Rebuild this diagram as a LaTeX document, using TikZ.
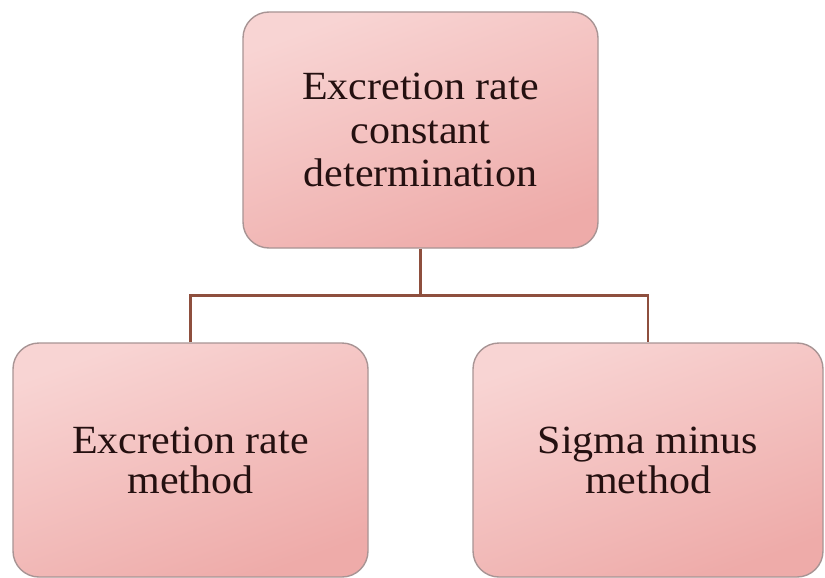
\documentclass[tikz,border=0pt]{standalone}
\usepackage{fontspec}
\setmainfont{Liberation Serif}[FakeStretch=1.05]
\definecolor{boxedge}{HTML}{A89494}
\definecolor{pinklight}{HTML}{F8D4D3}
\definecolor{pinkdark}{HTML}{EEABA9}
\definecolor{connbrown}{HTML}{8E4F3E}
\definecolor{txt}{HTML}{241010}
\tikzset{
  pinkbox/.style={rectangle, rounded corners=26pt, draw=boxedge, line width=1.4pt,
    top color=pinklight, bottom color=pinkdark, shading angle=20,
    minimum width=355pt, align=center, text=txt, inner sep=0pt},
  conn/.style={draw=connbrown, line width=2.8pt}
}
\begin{document}
\begin{tikzpicture}[x=1pt,y=-1pt]
\useasboundingbox (0,0) rectangle (825,578);
\node[pinkbox, minimum height=236pt, font=\fontsize{40}{43.5}\selectfont] (top) at (420.5,130) {Excretion rate\\constant\\determination};
\node[pinkbox, minimum height=234pt, font=\fontsize{40}{40}\selectfont] (left) at (190.5,460) {Excretion rate\\method};
\node[pinkbox, minimum width=350pt, minimum height=234pt, font=\fontsize{40}{40}\selectfont] (right) at (648,460) {Sigma minus\\method};
\draw[conn] (top.south) -- ++(0,47) coordinate (j);
\draw[conn] (left.north) |- (j) -| (right.north);
\end{tikzpicture}
\end{document}
